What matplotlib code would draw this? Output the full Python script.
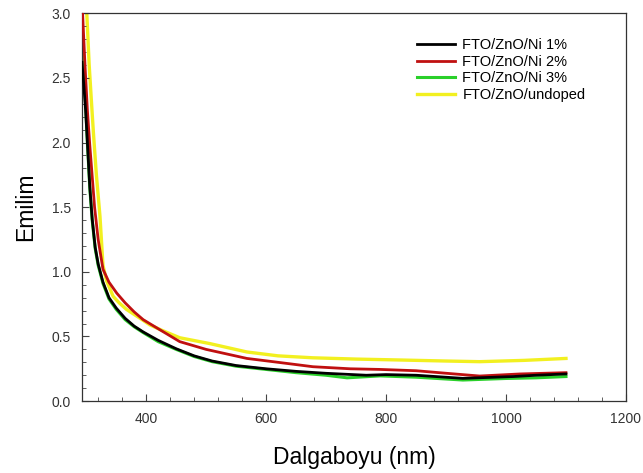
import matplotlib
matplotlib.use("Agg")
from matplotlib import pyplot as plt
from matplotlib.ticker import MultipleLocator

plt.rcParams['font.family'] = ['Liberation Sans', 'DejaVu Sans']

# FTO/ZnO/Ni 1%
wl_ni1 = [293, 296, 299, 302, 306, 310, 315, 320, 328, 338, 350, 365, 380, 395, 420, 450, 480, 510,
          550, 600, 650, 700, 767, 800, 850, 928, 1012, 1050, 1100]
em_ni1 = [2.62, 2.45, 2.25, 2.0, 1.66, 1.41, 1.19, 1.06, 0.92, 0.80, 0.72, 0.64, 0.58, 0.535, 0.47, 0.405,
          0.35, 0.31, 0.275, 0.25, 0.23, 0.215, 0.20, 0.205, 0.20, 0.176, 0.19, 0.20, 0.21]

# FTO/ZnO/Ni 2%
wl_ni2 = [294, 298, 302, 306, 309, 314, 320, 328, 338, 351, 365, 380, 395, 420, 456, 500, 568, 620,
          678, 740, 790, 850, 901, 956, 1023, 1100]
em_ni2 = [3.0, 2.6, 2.25, 1.98, 1.80, 1.50, 1.25, 1.02, 0.92, 0.835, 0.76, 0.69, 0.63, 0.56, 0.46, 0.40,
          0.33, 0.30, 0.266, 0.25, 0.245, 0.235, 0.215, 0.194, 0.21, 0.22]

# FTO/ZnO/Ni 3%
wl_ni3 = [293, 296, 299, 302, 306, 310, 315, 320, 328, 338, 350, 365, 380, 395, 420, 450, 480, 510,
          550, 600, 650, 700, 735, 790, 850, 928, 1000, 1050, 1100]
em_ni3 = [2.93, 2.6, 2.3, 2.0, 1.65, 1.40, 1.18, 1.05, 0.91, 0.79, 0.71, 0.63, 0.575, 0.53, 0.46, 0.40,
          0.345, 0.305, 0.27, 0.245, 0.22, 0.20, 0.18, 0.195, 0.185, 0.163, 0.175, 0.18, 0.19]

# FTO/ZnO/undoped
wl_und = [301, 305, 309, 312, 317, 323, 328, 334, 345, 355, 367, 390, 406, 425, 456, 506, 568, 620,
          678, 750, 823, 900, 956, 1030, 1100]
em_und = [3.0, 2.6, 2.3, 2.08, 1.75, 1.43, 1.05, 0.93, 0.81, 0.76, 0.71, 0.64, 0.59, 0.55, 0.49, 0.445,
          0.38, 0.35, 0.335, 0.325, 0.318, 0.31, 0.305, 0.315, 0.33]

fig = plt.figure(figsize=(6.43, 4.73), dpi=100)
ax = fig.add_axes([0.1275, 0.152, 0.846, 0.82])

ax.plot(wl_ni1, em_ni1, color="#000000", lw=2.0, label="FTO/ZnO/Ni 1%", zorder=4)
ax.plot(wl_ni2, em_ni2, color="#c01010", lw=2.0, label="FTO/ZnO/Ni 2%", zorder=3)
ax.plot(wl_ni3, em_ni3, color="#2ad02a", lw=2.2, label="FTO/ZnO/Ni 3%", zorder=2)
ax.plot(wl_und, em_und, color="#f2f020", lw=2.4, label="FTO/ZnO/undoped", zorder=1)

ax.set_xlim(293, 1200)
ax.set_ylim(0, 3.0)
ax.xaxis.set_major_locator(MultipleLocator(200))
ax.xaxis.set_minor_locator(MultipleLocator(40))
ax.yaxis.set_major_locator(MultipleLocator(0.5))
ax.yaxis.set_minor_locator(MultipleLocator(0.1))
ax.yaxis.set_major_formatter(plt.FormatStrFormatter('%.1f'))

ax.tick_params(which="both", direction="in", top=False, right=False, color="#444444",
               labelsize=10, labelcolor="#333333")
ax.tick_params(which="major", length=5, pad=8)
ax.tick_params(which="minor", length=3)
for s in ax.spines.values():
    s.set_color("#333333")
    s.set_linewidth(0.9)

ax.set_xlabel("Dalgaboyu (nm)", fontsize=16.5, labelpad=14)
ax.set_ylabel("Emilim", fontsize=16.5, labelpad=10)

leg = ax.legend(loc="upper left", bbox_to_anchor=(0.616, 0.935), frameon=False, fontsize=10.5,
                borderpad=0, borderaxespad=0, handlelength=2.6, labelspacing=0.17,
                handletextpad=0.5)

fig.savefig("out.png", dpi=100)
